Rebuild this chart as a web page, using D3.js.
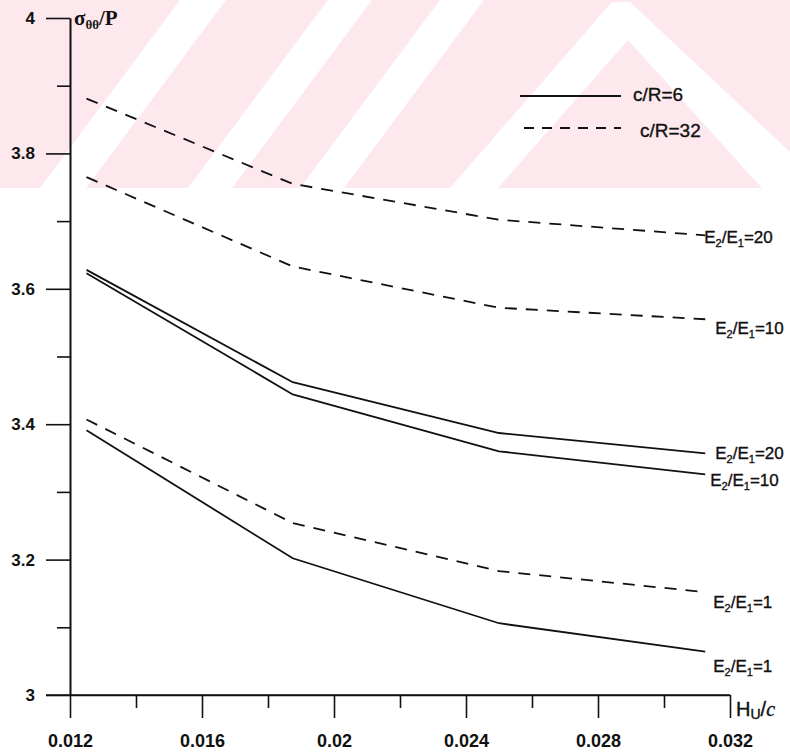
<!DOCTYPE html>
<html>
<head>
<meta charset="utf-8">
<script src="https://cdn.jsdelivr.net/npm/d3@7"></script>
<style>
  body { margin: 0; background: #fff; }
  text { font-family: "Liberation Sans", Arial, sans-serif; fill: #111; }
</style>
</head>
<body>
<div id="chart"></div>
<script>
var width = 790, height = 754;

// data
var hu = [0.0125, 0.01875, 0.025, 0.03125];
var cr6_e20 = [3.628, 3.462, 3.387, 3.357];
var cr6_e10 = [3.623, 3.444, 3.360, 3.326];
var cr6_e1  = [3.391, 3.202, 3.106, 3.064];
var cr32_e20 = [3.881, 3.755, 3.702, 3.679];
var cr32_e10 = [3.765, 3.633, 3.572, 3.555];
var cr32_e1  = [3.407, 3.254, 3.183, 3.152];

var xMajor = [0.012, 0.016, 0.02, 0.024, 0.028, 0.032];
var xMinor = [0.014, 0.018, 0.022, 0.026, 0.030];
var yMajor = [3, 3.2, 3.4, 3.6, 3.8, 4];
var yMinor = [3.1, 3.3, 3.5, 3.7, 3.9];

var series = [
  {values: cr32_e20, dashed: true,  ratio: "20"},
  {values: cr32_e10, dashed: true,  ratio: "10"},
  {values: cr6_e20,  dashed: false, ratio: "20"},
  {values: cr6_e10,  dashed: false, ratio: "10"},
  {values: cr32_e1,  dashed: true,  ratio: "1"},
  {values: cr6_e1,   dashed: false, ratio: "1"}
];
// where each end label sits, relative to the last point
var labelOffsets = [[-1, 2], [10, 9], [10, 0], [5, 6], [8, 10], [8, 14]];

var svg = d3.select('#chart').append('svg')
    .attr('width', width)
    .attr('height', height);

// faint watermark across the top of the scan
var wm = svg.append('g');
wm.append('rect').attr('x', 0).attr('y', 0).attr('width', width).attr('height', 188)
    .attr('fill', '#fde9ed');
var bands = [
  [[40, 188], [86, 188], [226, 0], [180, 0]],
  [[188, 188], [232, 188], [372, 0], [328, 0]],
  [[300, 188], [344, 188], [484, 0], [440, 0]],
  [[450, 188], [498, 188], [628, 40], [762, 188], [790, 188], [790, 152], [630, 2], [612, 2]]
];
bands.forEach(function(p) {
  wm.append('polygon').attr('points', p.map(function(d) { return d.join(','); }).join(' '))
      .attr('fill', '#fff');
});

var x = d3.scaleLinear().domain([0.012, 0.032]).range([70, 730]);
var y = d3.scaleLinear().domain([3, 4]).range([695, 18]);

// axes
var gx = svg.append('g').attr('transform', 'translate(0,695)');
gx.call(d3.axisBottom(x).tickValues(xMajor).tickSize(23).tickSizeOuter(0).tickPadding(16)
    .tickFormat(function(d) { return d3.format('')(+d.toFixed(3)); }));
gx.append('g').call(d3.axisBottom(x).tickValues(xMinor).tickSize(13).tickSizeOuter(0).tickFormat(''));
gx.select('.domain').attr('d', 'M46,0H730');

var gy = svg.append('g').attr('transform', 'translate(70,0)');
gy.call(d3.axisLeft(y).tickValues(yMajor).tickSize(24).tickSizeOuter(0).tickPadding(11)
    .tickFormat(function(d) { return d3.format('')(+d.toFixed(1)); }));
gy.append('g').call(d3.axisLeft(y).tickValues(yMinor).tickSize(13).tickSizeOuter(0).tickFormat(''));

svg.selectAll('.domain, .tick line').attr('stroke', '#111').attr('stroke-width', 1.6);
svg.selectAll('.tick text').attr('font-size', 17).attr('fill', '#111').attr('font-weight', 'bold')
    .attr('font-family', '"Liberation Sans", Arial, sans-serif');
gx.selectAll('.tick text').attr('font-size', 18);

// axis titles
var yt = svg.append('text').attr('x', 74).attr('y', 25).attr('font-weight', 'bold')
    .style('font-family', '"Liberation Serif", "Times New Roman", serif').attr('font-size', 21);
yt.append('tspan').text('σ');
yt.append('tspan').attr('font-size', 13).attr('dy', 4).text('θθ');
yt.append('tspan').attr('dy', -4).text('/P');

var xt = svg.append('text').attr('x', 736).attr('y', 716).attr('font-size', 20)
    .attr('stroke', '#111').attr('stroke-width', 0.4);
xt.append('tspan').text('H');
xt.append('tspan').attr('font-size', 14).attr('dy', 3).text('U');
xt.append('tspan').attr('dy', -3).text('/');
xt.append('tspan').style('font-family', '"Liberation Serif", serif').attr('font-style', 'italic').text('c');

// curves
var line = d3.line()
    .x(function(d, i) { return x(hu[i]); })
    .y(function(d) { return y(d); });

series.forEach(function(s, k) {
  svg.append('path').datum(s.values)
      .attr('d', line)
      .attr('fill', 'none')
      .attr('stroke', '#111')
      .attr('stroke-width', 1.8)
      .attr('stroke-dasharray', s.dashed ? '12,9' : null);

  var off = labelOffsets[k];
  var t = svg.append('text')
      .attr('x', x(hu[hu.length - 1]) + off[0])
      .attr('y', y(s.values[s.values.length - 1]) + off[1] + 6)
      .attr('font-size', 17).attr('stroke', '#111').attr('stroke-width', 0.35);
  t.append('tspan').text('E');
  t.append('tspan').attr('font-size', 11).attr('dy', 4).text('2');
  t.append('tspan').attr('dy', -4).text('/E');
  t.append('tspan').attr('font-size', 11).attr('dy', 4).text('1');
  t.append('tspan').attr('dy', -4).text('=' + s.ratio);
});

// legend
var legend = [{label: 'c/R=6', dashed: false}, {label: 'c/R=32', dashed: true}];
legend.forEach(function(l, i) {
  var ly = 96 + i * 32;
  svg.append('line').attr('x1', 520 + i * 4).attr('x2', 621).attr('y1', ly).attr('y2', ly)
      .attr('stroke', '#111').attr('stroke-width', 1.8)
      .attr('stroke-dasharray', l.dashed ? '10,8' : null);
  svg.append('text').attr('x', 633 + i * 7).attr('y', ly + 3 - (i ? 0 : 4) + 6)
      .attr('font-size', 19).attr('stroke', '#111').attr('stroke-width', 0.35).text(l.label);
});
</script>
</body>
</html>
